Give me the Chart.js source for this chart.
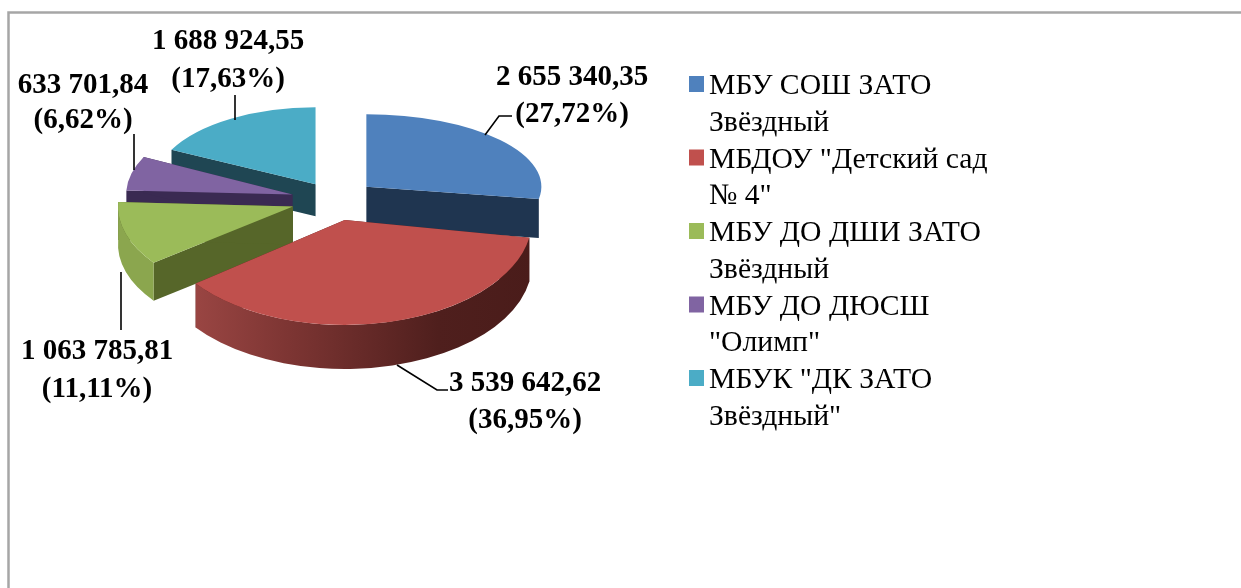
<!DOCTYPE html>
<html><head><meta charset="utf-8">
<style>html,body{margin:0;padding:0;background:#fff}canvas{display:block}</style>
<script src="https://cdn.jsdelivr.net/npm/chart.js@4/dist/chart.umd.min.js"></script>
</head><body><canvas id="c" width="1241" height="588"></canvas>
<script>
const categories = ['МБУ СОШ ЗАТО Звёздный','МБДОУ "Детский сад № 4"','МБУ ДО ДШИ ЗАТО Звёздный','МБУ ДО ДЮСШ "Олимп"','МБУК "ДК ЗАТО Звёздный"'];
const legendLines = [['МБУ СОШ ЗАТО','Звёздный'],['МБДОУ "Детский сад','№ 4"'],['МБУ ДО ДШИ ЗАТО','Звёздный'],['МБУ ДО ДЮСШ','"Олимп"'],['МБУК "ДК ЗАТО','Звёздный"']];
const values = [2655340.35, 3539642.62, 1063785.81, 633701.84, 1688924.55];
const valueLabels = ['2 655 340,35','3 539 642,62','1 063 785,81','633 701,84','1 688 924,55'];
const percentLabels = ['(27,72%)','(36,95%)','(11,11%)','(6,62%)','(17,63%)'];
const colors = ['#4f81bd','#c0504d','#9bbb59','#8064a2','#4bacc6'];
const faceColors = ['#1f3550','#4e1e1c','#566629','#3a2a52','#1f4653'];
const wallStyles = ['none','gradient','#8ba64e','none','none'];

// 3-D look: how each slice is pulled out, squashed and extruded
const drawOrder = [4,3,0,2,1];
const explode = [41,41,44,44,37];
const scaleX = [1.0,1.07,1.0,0.95,0.92];
const scaleY = [0.415,0.60,0.53,0.48,0.44];
const depth = [39,44,38,36,32];

const labelPos = [[572,78,115],[525,384,421],[97,352,390],[83,86,121],[228,42,80]];
const leaderLines = [[[485,135],[499,116],[512,116]],[[397,365],[437,390],[448,390]],[[121,272],[121,330]],[[134,134],[134,170]],[[235,95],[235,120]]];

const pie3d = {
  id:'pie3d',
  beforeDatasetDraw(chart,args){
    const ctx = chart.ctx, arcs = args.meta.data;
    drawOrder.forEach(i=>{
      const a = arcs[i];
      const {x,y,startAngle:s,endAngle:e,outerRadius:R} = a.getProps(['x','y','startAngle','endAngle','outerRadius'],true);
      const mid=(s+e)/2;
      ctx.save();
      ctx.translate(x+Math.cos(mid)*explode[i], y+Math.sin(mid)*explode[i]*0.5);
      ctx.scale(scaleX[i],scaleY[i]);
      ctx.translate(-x,-y);
      const dy = depth[i]/scaleY[i];
      ctx.fillStyle = faceColors[i];
      [s,e].forEach(t=>{
        const ex=x+Math.cos(t)*R, ey=y+Math.sin(t)*R;
        ctx.beginPath();ctx.moveTo(x,y);ctx.lineTo(ex,ey);ctx.lineTo(ex,ey+dy);ctx.lineTo(x,y+dy);ctx.closePath();ctx.fill();
      });
      if(wallStyles[i]!=='none'){
        let wall = wallStyles[i];
        if(wall==='gradient'){
          wall = ctx.createLinearGradient(x-R,0,x+R,0);
          wall.addColorStop(0,'#a54c49');wall.addColorStop(0.35,'#7d3533');wall.addColorStop(0.75,'#4f1f1d');wall.addColorStop(1,'#4a1c1a');
        }
        ctx.fillStyle = wall;
        ctx.beginPath();ctx.arc(x,y,R,s,e);ctx.arc(x,y+dy,R,e,s,true);ctx.closePath();ctx.fill();
      }
      a.draw(ctx);
      ctx.restore();
    });
    return false;
  },
  afterDraw(chart){
    const ctx = chart.ctx;
    ctx.save();
    // frame
    ctx.strokeStyle='#a6a6a6';ctx.lineWidth=2.5;
    ctx.beginPath();ctx.moveTo(8.5,588);ctx.lineTo(8.5,12.5);ctx.lineTo(1241,12.5);ctx.stroke();
    // leader lines
    ctx.strokeStyle='#000';ctx.lineWidth=1.6;
    leaderLines.forEach(l=>{ctx.beginPath();l.forEach((p,k)=>k?ctx.lineTo(p[0],p[1]):ctx.moveTo(p[0],p[1]));ctx.stroke();});
    // data labels
    ctx.fillStyle='#000';ctx.textAlign='center';ctx.textBaseline='middle';
    ctx.font='bold 29px "Liberation Serif"';
    labelPos.forEach((p,i)=>{ctx.fillText(valueLabels[i],p[0],p[1]);ctx.fillText(percentLabels[i],p[0],p[2]);});
    // legend
    ctx.textAlign='left';ctx.textBaseline='alphabetic';ctx.font='29.7px "Liberation Serif"';
    legendLines.forEach((ls,i)=>{
      const top=76+i*73.5;
      ctx.fillStyle=colors[i];ctx.fillRect(689,top,15,16);
      ctx.fillStyle='#000';
      ls.forEach((t,k)=>ctx.fillText(t,709,top+18+k*36.5));
    });
    ctx.restore();
  }
};

new Chart(document.getElementById('c'),{
  type:'pie',
  data:{labels:categories,datasets:[{data:values,backgroundColor:colors,borderWidth:0}]},
  options:{
    responsive:false,animation:false,radius:175,
    layout:{padding:{left:0,top:0,right:571,bottom:188}},
    plugins:{legend:{display:false},tooltip:{enabled:false},title:{display:false}}
  },
  plugins:[pie3d]
});
</script></body></html>
